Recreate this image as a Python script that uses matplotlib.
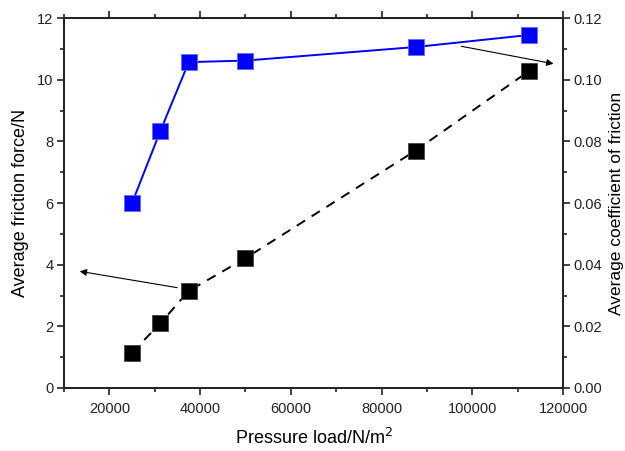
import numpy as np
import matplotlib.pyplot as plt
from matplotlib.ticker import MultipleLocator

plt.rcParams['font.family'] = ['Liberation Sans', 'DejaVu Sans']

# Pressure load and measured values
pressure = [25000, 31250, 37500, 50000, 87500, 112500]
friction_force = [1.15, 2.10, 3.15, 4.21, 7.70, 10.28]
friction_coef = [0.060, 0.0834, 0.1057, 0.1062, 0.1106, 0.1145]

fig = plt.figure(figsize=(6.25, 4.51), dpi=100)
ax = fig.add_axes([0.1024, 0.1397, 0.7984, 0.8203])
ax2 = ax.twinx()

ax.plot(pressure, friction_force, color='black', ls=(0, (5, 4)), lw=1.4,
        marker='s', ms=11, mfc='black', mec='#444444', mew=0.6, zorder=3)
ax2.plot(pressure, friction_coef, color='blue', ls='-', lw=1.4,
         marker='s', ms=11, mfc='blue', mec='#6666ff', mew=0.6, zorder=3)

ax.set_xlim(10000, 120000)
ax.set_ylim(0, 12)
ax2.set_ylim(0, 0.12)

ax.xaxis.set_major_locator(MultipleLocator(20000))
ax.xaxis.set_minor_locator(MultipleLocator(10000))
ax.yaxis.set_major_locator(MultipleLocator(2))
ax.yaxis.set_minor_locator(MultipleLocator(1))
ax2.yaxis.set_major_locator(MultipleLocator(0.02))
ax2.yaxis.set_minor_locator(MultipleLocator(0.01))
ax2.yaxis.set_major_formatter(plt.FormatStrFormatter('%.2f'))

for a in (ax, ax2):
    a.tick_params(which='both', direction='out', width=1.2, labelsize=10.5,
                  colors='#222222', pad=2.5)
    a.tick_params(which='major', length=5)
    a.tick_params(which='minor', length=3)
    for s in a.spines.values():
        s.set_linewidth(1.3)
        s.set_color('#222222')
ax.tick_params(which='both', top=True)
ax.tick_params(axis='x', pad=5)

ax.set_xlabel('Pressure load/N/m$^2$', fontsize=13, labelpad=9)
ax.set_ylabel('Average friction force/N', fontsize=13, labelpad=6)
ax2.set_ylabel('Average coefficient of friction', fontsize=12.5, labelpad=5)

# arrows pointing each series to its axis
ax.annotate('', xy=(12860, 3.80), xytext=(35550, 3.24),
            arrowprops=dict(arrowstyle='-|>', color='black', lw=0.8, mutation_scale=10))
ax.annotate('', xy=(118500, 10.50), xytext=(97000, 11.10),
            arrowprops=dict(arrowstyle='-|>', color='black', lw=0.8, mutation_scale=10))

plt.savefig('out.png', dpi=100)
